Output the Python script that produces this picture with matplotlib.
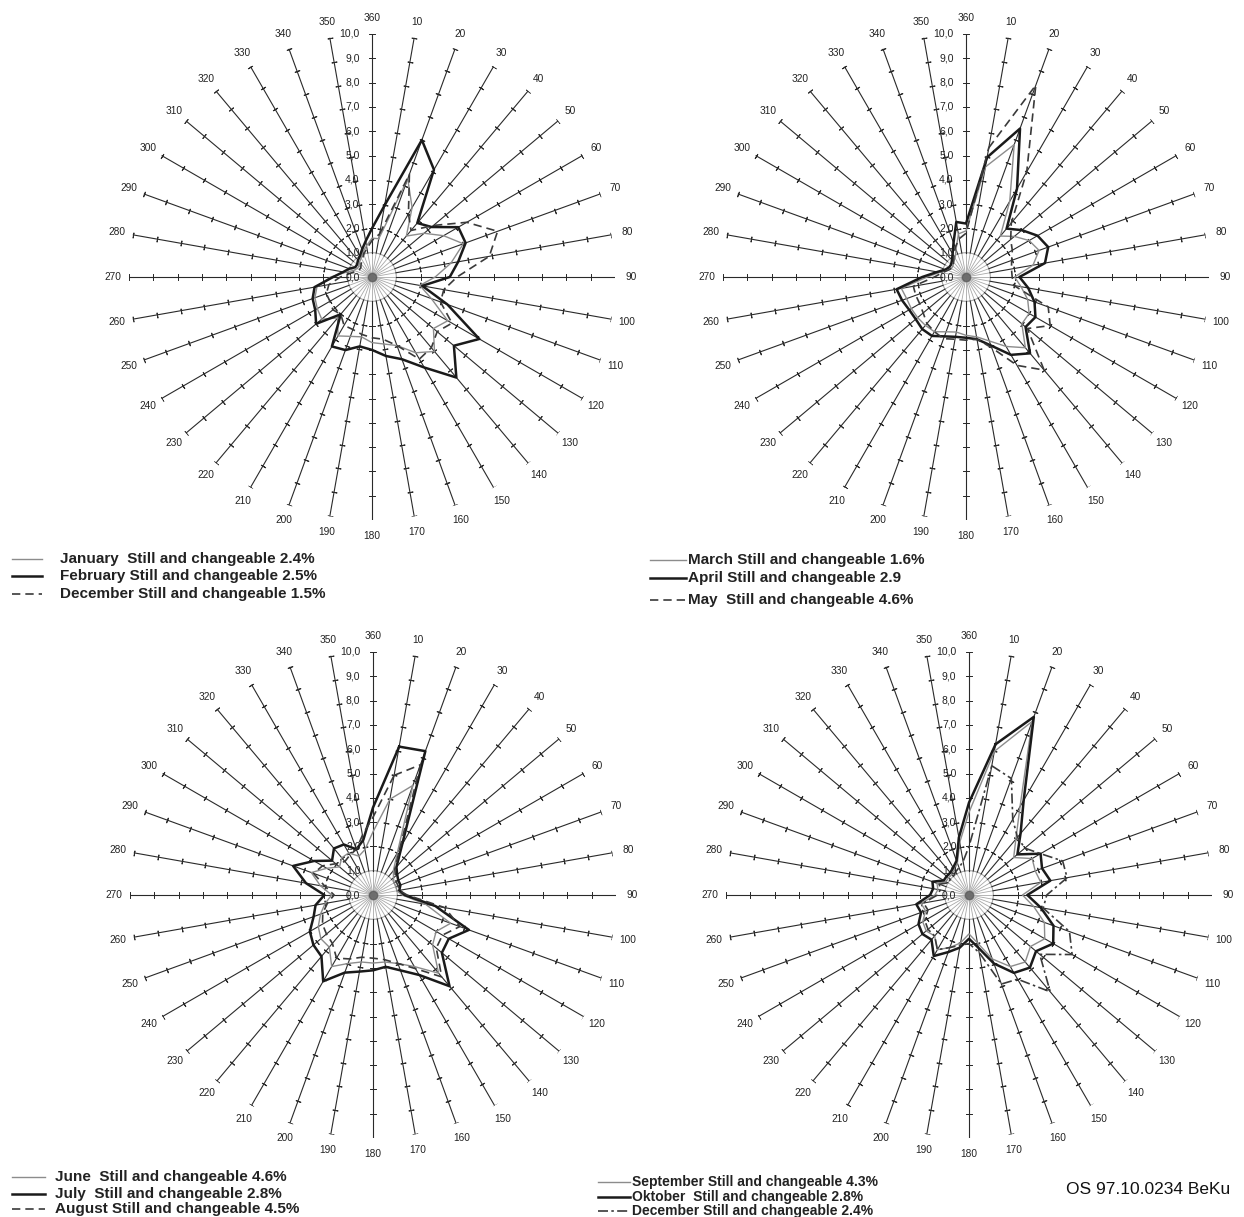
import numpy as np
import matplotlib
matplotlib.use("Agg")
import matplotlib.pyplot as plt
from matplotlib.lines import Line2D

plt.rcParams['font.family'] = ['Liberation Sans', 'DejaVu Sans']

# wind directions (degrees), one value per 10 degree sector
dirs = list(range(10, 361, 10))

# frequency in % per direction
jan = [1.6, 4.3, 3.3, 2.2, 2.8, 3.4, 4.0, 3.3, 2.6, 2.0, 2.6, 3.6, 3.3, 4.0, 3.6, 3.0, 2.8, 2.7,
       2.5, 2.6, 2.8, 2.2, 2.7, 2.6, 2.5, 2.3, 1.7, 1.1, 0.8, 0.7, 0.7, 0.8, 0.9, 1.1, 1.3, 1.6]
feb = [3.0, 6.0, 5.1, 2.9, 3.2, 4.1, 4.1, 3.6, 3.2, 2.1, 3.3, 5.1, 4.4, 5.4, 4.3, 3.6, 3.3, 3.0,
       2.9, 3.2, 3.3, 2.0, 3.0, 2.7, 2.6, 2.4, 1.6, 1.2, 1.0, 0.8, 0.8, 0.9, 1.0, 1.2, 1.5, 2.0]
dec_a = [1.8, 4.5, 3.0, 2.5, 3.3, 4.5, 5.5, 4.9, 3.5, 3.0, 3.0, 3.8, 3.5, 3.8, 3.9, 3.0, 2.6, 2.5,
         2.4, 2.3, 2.3, 2.0, 2.1, 2.0, 2.0, 1.8, 1.3, 0.9, 0.7, 0.6, 0.6, 0.7, 0.8, 1.0, 1.2, 1.5]

mar = [4.6, 5.8, 3.6, 2.2, 2.6, 3.0, 3.2, 2.8, 2.0, 2.3, 2.7, 3.0, 3.0, 3.8, 3.3, 2.8, 2.5, 2.4,
       2.3, 2.4, 2.6, 2.6, 2.6, 2.6, 2.6, 2.7, 1.6, 1.1, 0.8, 0.7, 0.7, 0.8, 0.9, 1.2, 1.8, 1.9]
apr = [5.0, 6.5, 4.2, 2.6, 3.0, 3.4, 3.6, 3.3, 2.2, 2.6, 3.0, 3.3, 3.2, 4.1, 3.7, 3.0, 2.6, 2.5,
       2.5, 2.6, 2.8, 2.8, 2.7, 2.7, 2.8, 2.9, 1.8, 1.2, 0.9, 0.8, 0.8, 0.9, 1.1, 1.5, 2.3, 2.2]
may = [5.4, 8.4, 5.0, 2.9, 2.4, 2.2, 2.0, 1.9, 1.9, 2.0, 3.6, 4.0, 3.3, 5.0, 4.2, 3.1, 2.6, 2.6,
       2.6, 2.7, 2.6, 2.5, 2.3, 2.2, 2.2, 2.2, 1.3, 1.0, 0.8, 0.7, 0.7, 0.8, 1.0, 1.3, 1.6, 1.8]

jun = [4.0, 4.8, 2.0, 1.3, 1.1, 1.0, 1.0, 1.0, 1.2, 2.2, 3.4, 3.0, 3.2, 4.2, 3.4, 3.0, 2.8, 2.8,
       2.8, 3.0, 3.4, 2.8, 2.8, 2.6, 2.3, 2.0, 1.7, 2.2, 2.7, 2.2, 1.8, 2.0, 2.0, 1.7, 1.9, 2.6]
jul = [6.2, 6.3, 2.4, 1.5, 1.3, 1.2, 1.2, 1.1, 1.3, 2.6, 4.2, 3.6, 3.7, 4.9, 3.8, 3.3, 3.0, 3.1,
       3.2, 3.4, 4.1, 3.3, 3.2, 3.0, 2.6, 2.4, 2.0, 2.8, 3.5, 2.8, 2.2, 2.5, 2.4, 2.0, 2.3, 3.6]
aug = [5.0, 5.7, 2.2, 1.4, 1.2, 1.1, 1.1, 1.1, 1.4, 3.0, 3.8, 3.3, 3.4, 4.4, 3.5, 3.0, 2.7, 2.6,
       2.6, 2.8, 3.0, 2.6, 2.5, 2.4, 2.2, 1.9, 1.6, 2.0, 2.6, 2.4, 2.0, 1.8, 1.9, 2.0, 2.5, 3.2]

sep = [6.0, 7.6, 4.2, 3.0, 2.4, 3.0, 2.9, 3.0, 2.2, 2.7, 3.3, 3.6, 3.3, 3.6, 3.4, 2.8, 2.0, 1.6,
       2.0, 2.3, 2.6, 2.2, 2.3, 2.2, 1.9, 2.0, 1.4, 1.3, 1.4, 1.1, 1.1, 1.1, 1.2, 1.4, 2.2, 3.4]
okt = [6.3, 7.8, 4.5, 3.3, 2.6, 3.4, 3.2, 3.4, 2.4, 3.0, 3.7, 4.0, 3.6, 3.9, 3.7, 3.0, 2.2, 1.8,
       2.2, 2.5, 2.9, 2.4, 2.5, 2.4, 2.1, 2.2, 1.6, 1.5, 1.6, 1.2, 1.2, 1.2, 1.3, 1.5, 2.4, 3.8]
dec_b = [5.4, 5.1, 3.6, 3.1, 3.0, 3.4, 4.1, 4.1, 3.2, 3.1, 4.4, 4.9, 3.8, 5.2, 4.0, 3.9, 2.4, 2.0,
         2.1, 2.3, 2.6, 2.2, 2.2, 2.1, 1.8, 1.9, 1.3, 1.2, 1.3, 1.0, 1.0, 1.0, 1.1, 1.2, 1.4, 2.0]

radial_labels = ["0,0", "1,0", "2,0", "3,0", "4,0", "5,0", "6,0", "7,0", "8,0", "9,0", "10,0"]

GRAY = dict(color="#8c8c8c", lw=1.0, ls="-")
BLACK = dict(color="#1a1a1a", lw=1.8, ls="-")
DASH = dict(color="#3a3a3a", lw=1.2, ls=(0, (5, 3)))
DASHDOT = dict(color="#3a3a3a", lw=1.2, ls=(0, (6, 2, 1.5, 2)))

W, H = 1244, 1217
fig = plt.figure(figsize=(W / 100, H / 100), dpi=100)
R = 243  # pixels for radius 10


def rose(cx, cy, series):
    ax = fig.add_axes([(cx - R) / W, (H - cy - R) / H, 2 * R / W, 2 * R / H], projection="polar")
    ax.set_theta_zero_location("N")
    ax.set_theta_direction(-1)
    ax.set_ylim(0, 10)
    ax.axis("off")
    # inner gray hub
    th = np.linspace(0, 2 * np.pi, 200)
    ax.plot(th, np.ones_like(th), color="#a5a5a5", lw=0.8)
    for d in dirs:
        t = np.deg2rad(d)
        ax.plot([t, t], [0, 1], color="#a8a8a8", lw=0.6)
        ax.plot([t, t], [1, 10], color="#2a2a2a", lw=0.8)
        ax.plot([t] * 9, np.arange(2, 11), ls="none", marker=(2, 2, 90 - d),
                ms=4, mew=0.7, color="#2a2a2a")
        ax.text(t, 10.65, str(d), fontsize=7.3, ha="center", va="center", color="#222")
    ax.plot([0], [0], marker="o", ms=6, color="#555", alpha=0.7)
    for k, lab in enumerate(radial_labels):
        ax.annotate(lab, xy=(0, k), xytext=(-9, 0), textcoords="offset points",
                    ha="right", va="center", fontsize=7.5, color="#222")
    for vals, st in series:
        t = np.deg2rad(dirs + [dirs[0]])
        v = vals + [vals[0]]
        ax.plot(t, v, **st)
    return ax


def legend(x0, x1, xt, ys, texts, styles, size=11):
    for y, txt, st in zip(ys, texts, styles):
        fig.add_artist(Line2D([x0 / W, x1 / W], [1 - y / H, 1 - y / H], **st))
        fig.text(xt / W, 1 - y / H, txt, fontsize=size, fontweight="bold", va="center", ha="left",
                 color="#222")


rose(372, 277, [(jan, GRAY), (feb, BLACK), (dec_a, DASH)])
rose(966, 277, [(mar, GRAY), (apr, BLACK), (may, DASH)])
rose(373, 895, [(jun, GRAY), (jul, BLACK), (aug, DASH)])
rose(969, 895, [(sep, GRAY), (okt, BLACK), (dec_b, DASHDOT)])

legend(12, 42, 60, [559, 576, 594],
       ["January  Still and changeable 2.4%", "February Still and changeable 2.5%",
        "December Still and changeable 1.5%"], [GRAY, BLACK, DASH])
legend(650, 686, 688, [560, 578, 600],
       ["March Still and changeable 1.6%", "April Still and changeable 2.9",
        "May  Still and changeable 4.6%"], [GRAY, BLACK, DASH])
legend(12, 45, 55, [1177, 1194, 1209],
       ["June  Still and changeable 4.6%", "July  Still and changeable 2.8%",
        "August Still and changeable 4.5%"], [GRAY, BLACK, DASH])
legend(598, 630, 632, [1182, 1197, 1211],
       ["September Still and changeable 4.3%", "Oktober  Still and changeable 2.8%",
        "December Still and changeable 2.4%"], [GRAY, BLACK, DASHDOT], size=10)

fig.text(1230 / W, 1 - 1190 / H, "OS 97.10.0234 BeKu", fontsize=12.5, va="center", ha="right",
         color="#111")

fig.savefig("out.png", dpi=100)
